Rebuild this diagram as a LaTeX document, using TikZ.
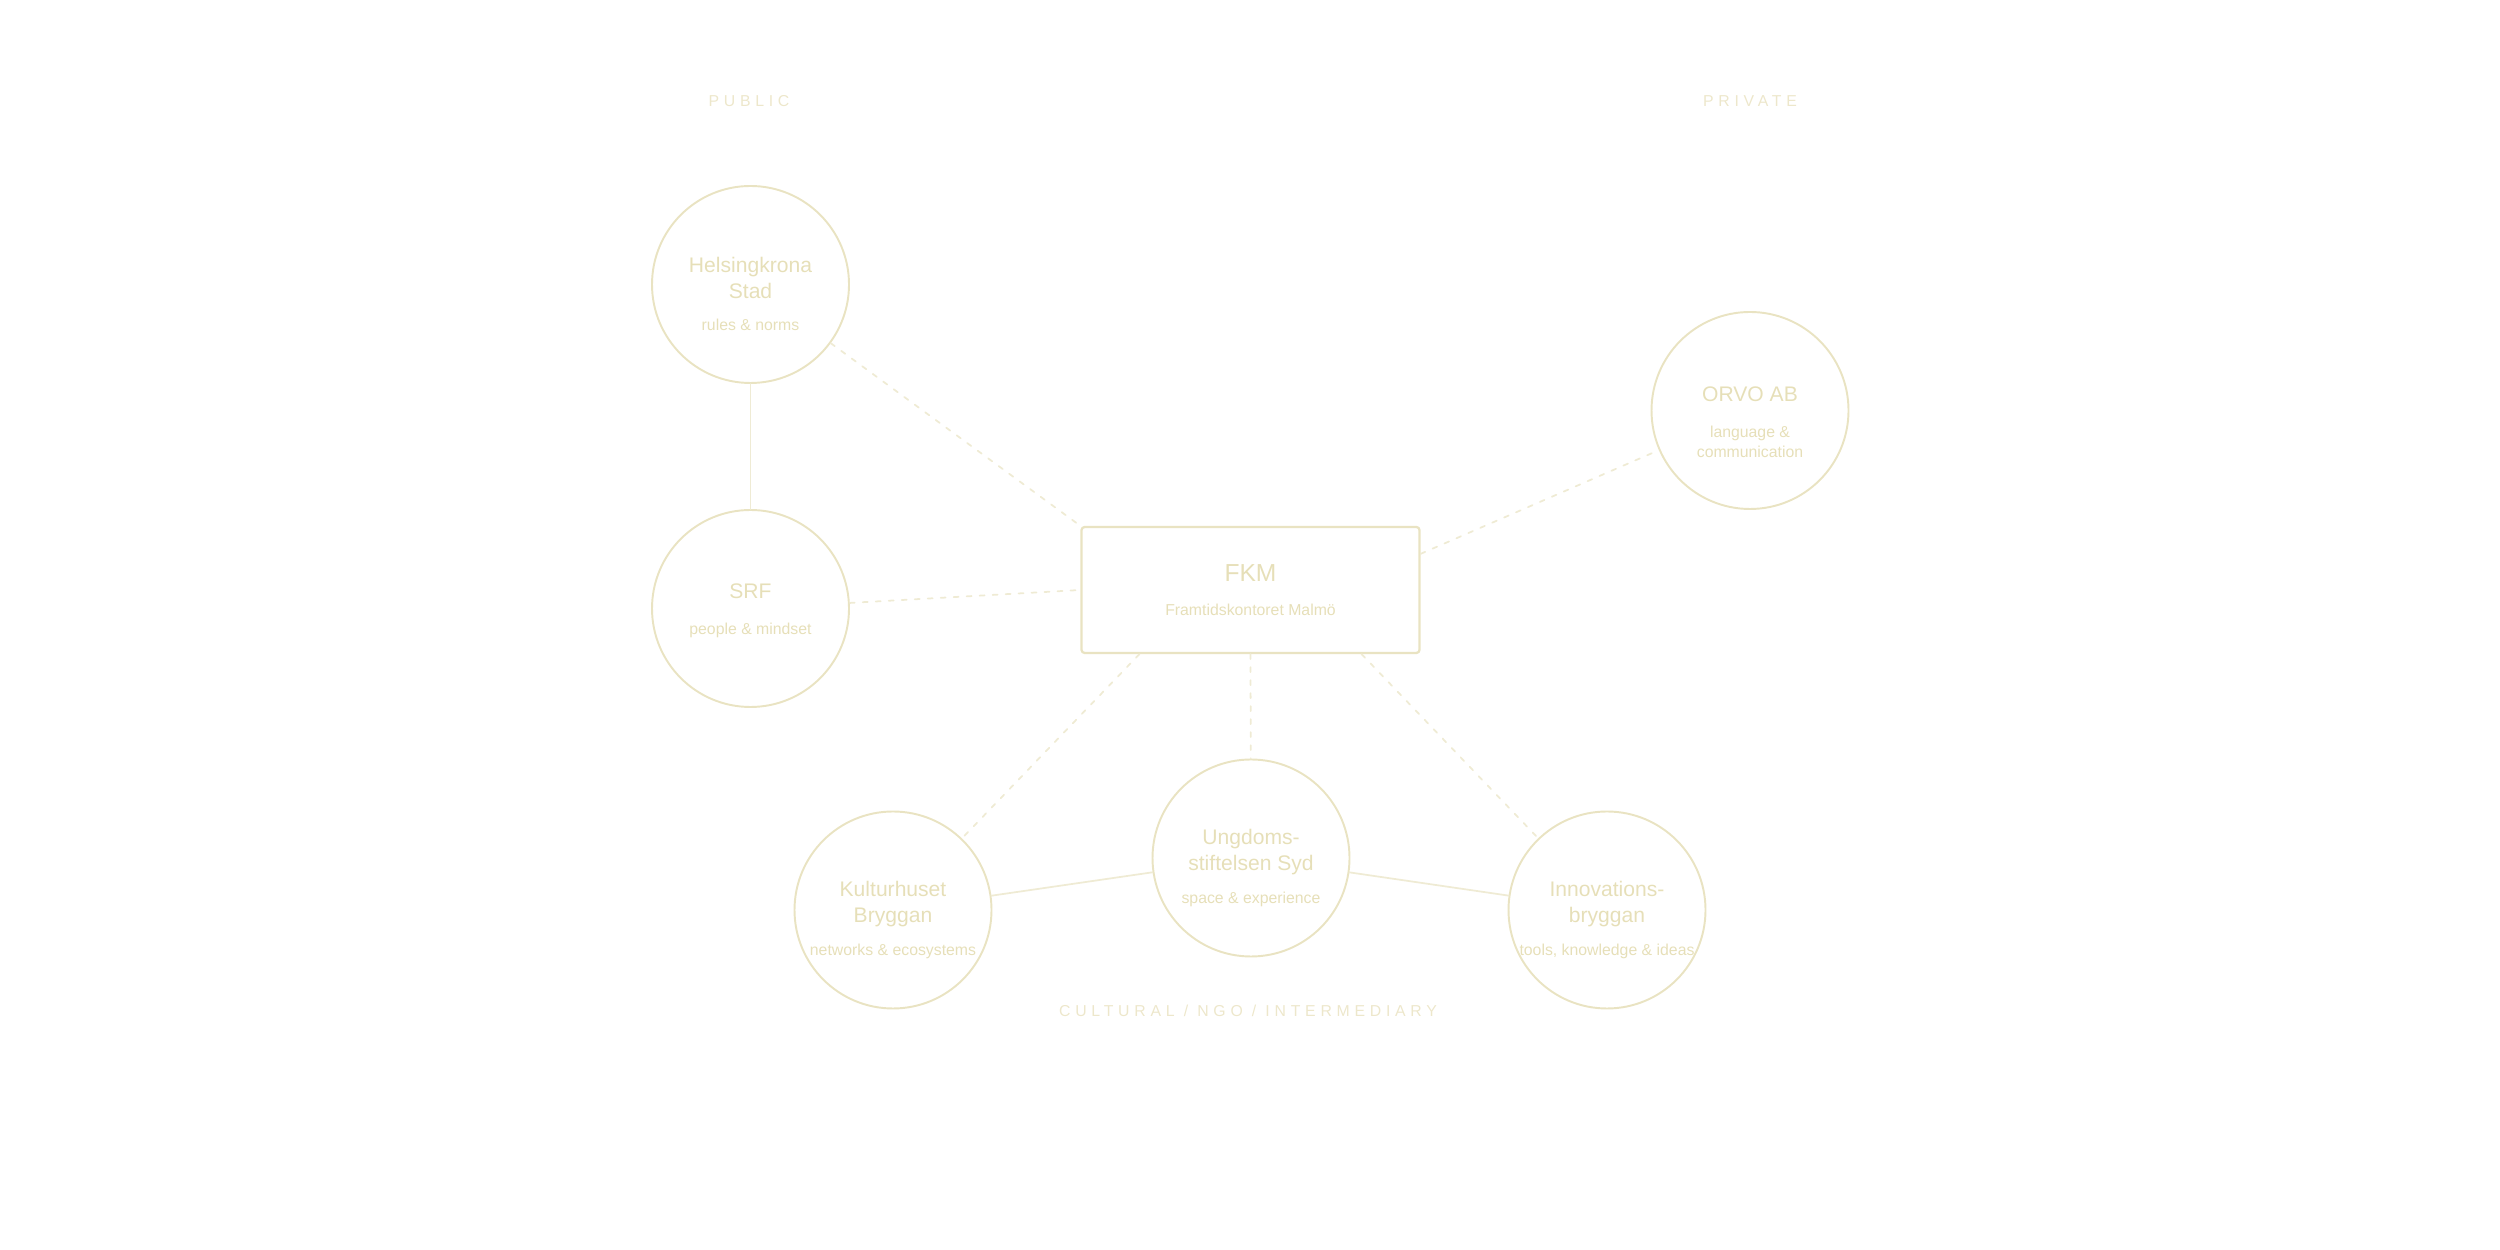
\documentclass[tikz,border=0pt]{standalone}
\usepackage{fontspec}
\setmainfont{Liberation Sans}
\newfontfamily\trackfont[LetterSpace=30]{Liberation Sans}
\definecolor{cream}{HTML}{E9E3C2}
\definecolor{creamtext}{HTML}{E6DFB8}
\definecolor{creamline}{HTML}{EFEBD4}
\definecolor{creamlabel}{HTML}{EDE7CB}
\newcommand{\orgtitle}{\fontsize{6}{7.4}\selectfont}
\newcommand{\orgsub}{\fontsize{4.5}{5.7}\selectfont}

\begin{document}
\begin{tikzpicture}[line cap=round, line join=round, scale=1.0,
	org/.style={circle, draw=cream, line width=0.55pt, minimum size=1.97cm, inner sep=0pt},
	orgtext/.style={inner sep=0pt, text=creamtext, align=center, font=\orgtitle},
	hub/.style={rectangle, rounded corners=0.9pt, draw=cream, line width=0.65pt,
		minimum width=3.38cm, minimum height=1.26cm, inner sep=0pt,
		text=creamtext, align=center, font=\fontsize{7}{8}\selectfont},
	sector/.style={text=creamlabel, font=\trackfont\fontsize{4.5}{5.4}\selectfont},
	tie/.style={draw=creamline, line width=0.5pt},
	link/.style={draw=creamline, line width=0.5pt, dash pattern=on 1.4pt off 2.3pt}]
		
		\useasboundingbox (0,0) rectangle (25,12.5);
		
		% --- sector labels ---
		\node[sector] (public) at (7.49,11.49) {PUBLIC};
		\node[sector] (private) at (17.50,11.49) {PRIVATE};
		\node[sector] (cultural) at (12.48,2.39) {CULTURAL / NGO / INTERMEDIARY};
		
		% --- hub: FKM ---
		\node[hub] (fkm) at (12.505,6.60) {FKM\\[1.7pt]\orgsub Framtidskontoret Malmö};
		
		% --- public side ---
		\node[org] (helsing) at (7.505,9.655) {};
		\node[orgtext] (helsing-t) at ([yshift=-0.09cm]helsing.center) {Helsingkrona\\Stad\\[1.7pt]\orgsub rules \& norms};
		\node[org] (srf) at (7.505,6.415) {};
		\node[orgtext] (srf-t) at ([yshift=-0.025cm]srf.center) {SRF\\[2.8pt]\orgsub people \& mindset};
		
		% --- private side ---
		\node[org] (orvo) at (17.50,8.395) {};
		\node[orgtext] (orvo-t) at ([yshift=-0.115cm]orvo.center) {ORVO AB\\[2.9pt]\orgsub language \&\\[-1.7pt]\orgsub communication};
		
		% --- cultural / ngo / intermediary ---
		\node[org] (kultur) at (8.93,3.40) {};
		\node[orgtext] (kultur-t) at ([yshift=-0.1cm]kultur.center) {Kulturhuset\\Bryggan\\[1.9pt]\orgsub networks \& ecosystems};
		\node[org] (ungdom) at (12.51,3.92) {};
		\node[orgtext] (ungdom-t) at ([yshift=-0.1cm]ungdom.center) {Ungdoms-\\stiftelsen Syd\\[1.9pt]\orgsub space \& experience};
		\node[org] (innov) at (16.07,3.40) {};
		\node[orgtext] (innov-t) at ([yshift=-0.1cm]innov.center) {Innovations-\\bryggan\\[1.9pt]\orgsub tools, knowledge \& ideas};
		
		% --- solid ties between partners ---
		\draw[tie] (helsing) -- (srf);
		\draw[tie] (kultur) -- (ungdom);
		\draw[tie] (ungdom) -- (innov);
		
		% --- dashed links to the hub ---
		\draw[link] (helsing) -- (fkm.north west);
		\draw[link] (srf) -- (fkm.west);
		\draw[link] (fkm.12) -- (orvo);
		\draw[link] (fkm.210) -- (kultur);
		\draw[link] (fkm.south) -- (ungdom);
		\draw[link] (fkm.330) -- (innov);
		
	\end{tikzpicture}
\end{document}
